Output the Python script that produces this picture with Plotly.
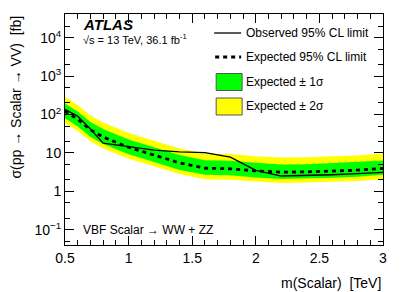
import plotly.graph_objects as go

mass = [0.5, 0.6, 0.7, 0.8, 1.0, 1.2, 1.4, 1.6, 1.8, 2.0, 2.2, 2.4, 2.6, 2.8, 3.0]
observed = [136, 90, 42, 18, 14.5, 11.8, 10.6, 10.2, 7.8, 3.5, 2.5, 2.55, 2.7, 2.9, 3.1]
expected = [122, 75, 40, 26, 14, 8.8, 5.5, 4.0, 3.85, 3.4, 3.15, 3.2, 3.35, 3.55, 3.95]
plus1 = [195, 120, 64, 42, 22.5, 14, 8.8, 6.4, 6.2, 5.5, 5.0, 5.1, 5.4, 5.7, 6.3]
minus1 = [80, 49, 26, 17, 9.2, 5.8, 3.6, 2.7, 2.6, 2.3, 2.1, 2.15, 2.25, 2.4, 2.7]
plus2 = [290, 178, 95, 62, 33, 21, 13, 9.6, 9.3, 8.2, 7.6, 7.7, 8.1, 8.6, 9.6]
minus2 = [60, 37, 20, 13, 7.0, 4.5, 2.8, 2.05, 2.0, 1.8, 1.65, 1.7, 1.75, 1.85, 2.05]

ytickvals = [0.1, 1, 10, 100, 1000, 10000]
yticktext = ["10<sup>−1</sup>", "1", "10", "10<sup>2</sup>", "10<sup>3</sup>", "10<sup>4</sup>"]
xtickvals = [0.5, 1, 1.5, 2, 2.5, 3]
xticktext = ["0.5", "1", "1.5", "2", "2.5", "3"]

FONT = "Liberation Sans, Arial, Helvetica, sans-serif"
YELLOW = "#ffff00"
GREEN = "#00ff00"

fig = go.Figure()
fig.add_trace(go.Scatter(x=mass + mass[::-1], y=plus2 + minus2[::-1], fill="toself",
                         fillcolor=YELLOW, line=dict(width=0), mode="lines",
                         hoverinfo="skip", showlegend=False))
fig.add_trace(go.Scatter(x=mass + mass[::-1], y=plus1 + minus1[::-1], fill="toself",
                         fillcolor=GREEN, line=dict(width=0), mode="lines",
                         hoverinfo="skip", showlegend=False))
fig.add_trace(go.Scatter(x=mass, y=expected, mode="lines",
                         line=dict(color="black", width=2.8, dash="4px,4px"),
                         showlegend=False))
fig.add_trace(go.Scatter(x=mass, y=observed, mode="lines",
                         line=dict(color="black", width=1.3),
                         showlegend=False))

fig.update_xaxes(range=[0.5, 3.0], tickvals=xtickvals, ticktext=xticktext,
                 ticks="inside", ticklen=9, tickwidth=1, tickcolor="black",
                 minor=dict(ticks="inside", dtick=0.1, ticklen=5, tickcolor="black", showgrid=False),
                 showline=True, linecolor="black", linewidth=1, mirror="allticks",
                 showgrid=False, zeroline=False,
                 tickfont=dict(family=FONT, size=14, color="black"))
fig.update_yaxes(type="log", range=[-1.4, 4.62], tickvals=ytickvals, ticktext=yticktext,
                 ticks="inside", ticklen=9, tickwidth=1, tickcolor="black",
                 minor=dict(ticks="inside", ticklen=5, tickcolor="black", showgrid=False),
                 showline=True, linecolor="black", linewidth=1, mirror="allticks",
                 showgrid=False, zeroline=False,
                 tickfont=dict(family=FONT, size=14, color="black"))

ann = []
ann.append(dict(text="σ(pp → Scalar → VV)  [fb]", textangle=-90, xref="paper", yref="paper",
                x=-0.157, y=1.0, xanchor="center", yanchor="top", showarrow=False,
                font=dict(family=FONT, size=14, color="black")))
ann.append(dict(text="m(Scalar)  [TeV]", xref="paper", yref="paper", x=1.0, y=-0.12,
                xanchor="right", yanchor="top", showarrow=False,
                font=dict(family=FONT, size=14, color="black")))
ann.append(dict(text="<b><i>ATLAS</i></b>", xref="paper", yref="paper", x=0.05, y=0.955,
                xanchor="left", yanchor="middle", showarrow=False,
                font=dict(family=FONT, size=15, color="black")))
ann.append(dict(text="√s = 13 TeV, 36.1 fb<sup>-1</sup>", xref="paper", yref="paper", x=0.05, y=0.89,
                xanchor="left", yanchor="middle", showarrow=False,
                font=dict(family=FONT, size=11, color="black")))
ann.append(dict(text="VBF Scalar → WW + ZZ", xref="paper", yref="paper", x=0.05, y=0.065,
                xanchor="left", yanchor="middle", showarrow=False,
                font=dict(family=FONT, size=12, color="black")))

x0, x1 = 64.7, 383.0
y0, y1 = 14.0, 245.0
def px(x):
    return (x - x0) / (x1 - x0)
def py(y):
    return (y1 - y) / (y1 - y0)

leg_text = ["Observed 95% CL limit", "Expected 95% CL limit", "Expected ± 1σ", "Expected ± 2σ"]
leg_y = [33, 57, 82, 106]
for t, yy in zip(leg_text, leg_y):
    ann.append(dict(text=t, xref="paper", yref="paper", x=px(244), y=py(yy),
                    xanchor="left", yanchor="middle", showarrow=False,
                    font=dict(family=FONT, size=12, color="black")))

shapes = [
    dict(type="line", xref="paper", yref="paper", x0=px(214), x1=px(241), y0=py(33), y1=py(33),
         line=dict(color="black", width=1.3)),
    dict(type="line", xref="paper", yref="paper", x0=px(215), x1=px(241), y0=py(57), y1=py(57),
         line=dict(color="black", width=2.8, dash="4px,4px")),
    dict(type="rect", xref="paper", yref="paper", x0=px(216), x1=px(242), y0=py(73.5), y1=py(90.5),
         fillcolor=GREEN, line=dict(color="#555555", width=1)),
    dict(type="rect", xref="paper", yref="paper", x0=px(216), x1=px(242), y0=py(98), y1=py(115),
         fillcolor=YELLOW, line=dict(color="#555555", width=1)),
]

fig.update_layout(width=403, height=292, margin=dict(l=65, r=20, t=14, b=47),
                  plot_bgcolor="white", paper_bgcolor="white",
                  annotations=ann, shapes=shapes, showlegend=False,
                  font=dict(family=FONT, color="black"))

fig.write_html("out.html", config={"displayModeBar": False},
               post_script="document.body.style.margin='0';document.body.style.padding='0';")
